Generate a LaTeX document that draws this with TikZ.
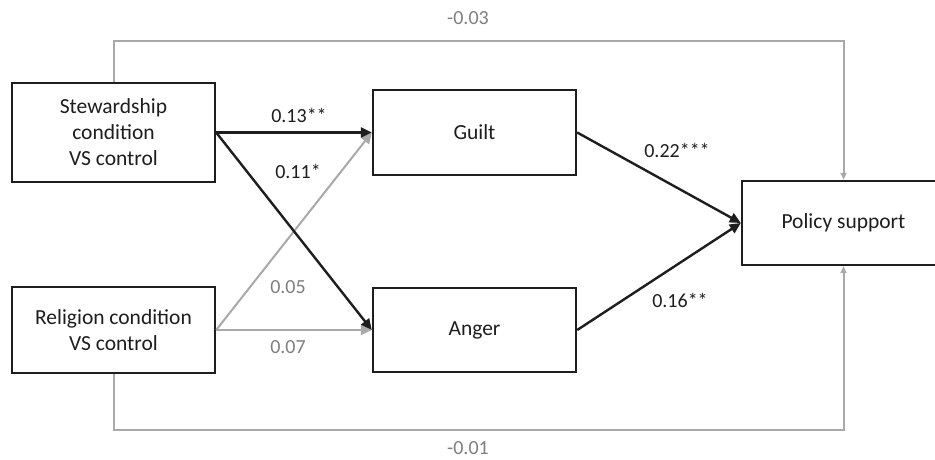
\documentclass[tikz,border=0pt]{standalone}
\usepackage{fontspec}
\setmainfont{Carlito}
\usetikzlibrary{arrows.meta}
\definecolor{lgray}{HTML}{A9A9A9}
\definecolor{tgray}{HTML}{7F7F7F}
\definecolor{ink}{HTML}{1E1E1E}
\begin{document}
\begin{tikzpicture}[x=1pt,y=-1pt,
  box/.style={draw=ink,line width=2.4pt,rectangle,inner sep=0pt,align=center,
    font=\fontsize{21.5}{26}\selectfont,text=ink},
  blk/.style={draw=ink,line width=2.4pt,-{Triangle[length=11pt,width=10pt]}},
  gry/.style={draw=lgray,line width=2pt,-{Triangle[length=11pt,width=10pt]}},
  gryn/.style={draw=lgray,line width=2pt,-{Triangle[length=7pt,width=6pt]}},
  lab/.style={font=\fontsize{20}{24}\selectfont,text=ink,inner sep=0pt},
  glab/.style={font=\fontsize{20}{24}\selectfont,text=tgray,inner sep=0pt}]
\useasboundingbox (0,0) rectangle (935,460);
\clip (0,0) rectangle (935,460);
\fill[white] (0,0) rectangle (935,460);
\node[box,minimum width=203pt,minimum height=99pt] (st) at (113.5,132.5) {Stewardship\\condition\\VS control};
\node[box,minimum width=203pt,minimum height=86pt] (re) at (113.5,330) {Religion condition\\VS control};
\node[box,minimum width=203pt,minimum height=85pt] (gu) at (474.5,132.5) {Guilt};
\node[box,minimum width=203pt,minimum height=84pt] (an) at (474.5,330) {Anger};
\node[box,minimum width=203pt,minimum height=84pt] (po) at (843.5,223) {Policy support};
\coordinate (t1) at (114,41);
\coordinate (t2) at (843.5,41);
\coordinate (b1) at (114,430);
\coordinate (b2) at (843.5,430);
% direct effects
\draw[gryn] (st.north -| t1) -- (t1) -- (t2) -- (po.north);
\draw[gryn] (re.south -| b1) -- (b1) -- (b2) -- (po.south);
% a paths
\draw[gry] (re.east) -- (gu.west);
\draw[gry] (re.east) -- (an.west);
\draw[blk] (st.east) -- (gu.west);
\draw[blk] (st.east) -- (an.west);
% b paths
\draw[blk] (gu.east) -- (po.west);
\draw[blk] (an.east) -- (po.west);
% labels
\node[glab] (l1) at (468,18) {-0.03};
\node[glab] (l2) at (468,448) {-0.01};
\node[lab] (l3) at (299,115) {0.13**};
\node[lab] (l4) at (298,171) {0.11*};
\node[glab] (l5) at (288,287) {0.05};
\node[glab] (l6) at (288,347) {0.07};
\node[lab] (l7) at (677,150) {0.22***};
\node[lab] (l8) at (680,300) {0.16**};
\end{tikzpicture}
\end{document}
